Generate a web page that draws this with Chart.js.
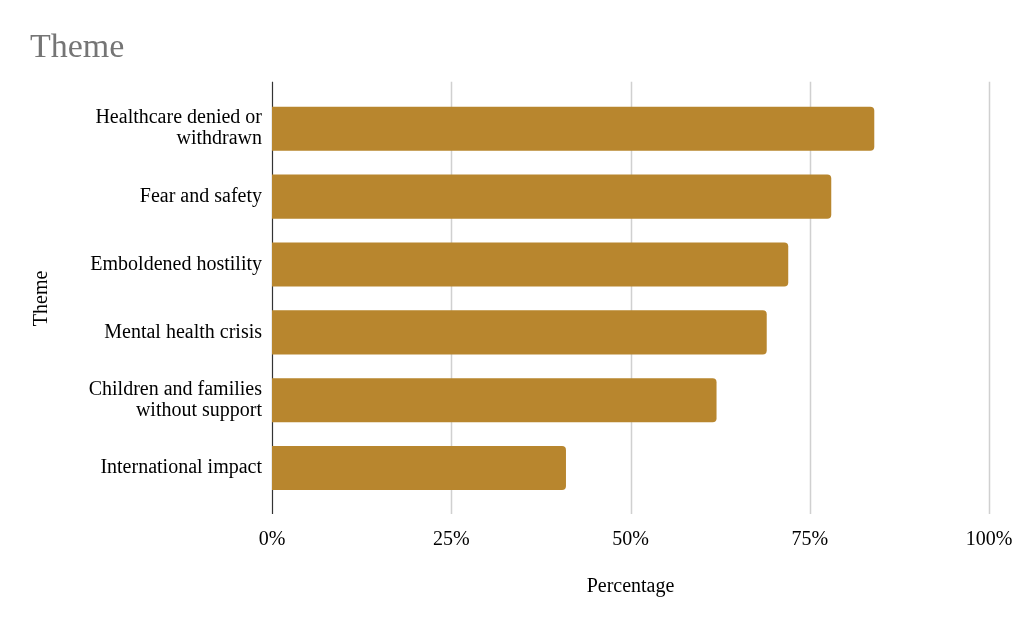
<!DOCTYPE html>
<html>
<head>
<meta charset="utf-8">
<script src="https://cdn.jsdelivr.net/npm/chart.js@4"></script>
<style>
  html, body { margin: 0; padding: 0; background: #fff; }
  #wrap { width: 1020px; height: 626px; }
</style>
</head>
<body>
<div id="wrap"><canvas id="themeChart" width="1020" height="626"></canvas></div>
<script>
// Chart data
const themes = [
    ['Healthcare denied or', 'withdrawn'],
    'Fear and safety',
    'Emboldened hostility',
    'Mental health crisis',
    ['Children and families', 'without support'],
    'International impact'
];
const percentages = [84, 78, 72, 69, 62, 41];
const xTicks = [0, 25, 50, 75, 100];

const serif = "'Liberation Serif', 'DejaVu Serif', serif";

// Extends the vertical grid lines and the axis line above and below the plot, like the original
const extendLines = {
    id: 'extendLines',
    beforeDatasetsDraw(chart) {
        const { ctx, chartArea, scales } = chart;
        ctx.save();
        xTicks.forEach(v => {
            const x = Math.round(scales.x.getPixelForValue(v)) + 0.5;
            ctx.strokeStyle = v === 0 ? '#333' : '#d0d0d0';
            ctx.lineWidth = v === 0 ? 1.2 : 1.5;
            ctx.beginPath();
            ctx.moveTo(x, chartArea.top - 13);
            ctx.lineTo(x, chartArea.bottom + 12);
            ctx.stroke();
        });
        ctx.restore();
    }
};

document.addEventListener('DOMContentLoaded', () => {
    const ctx = document.getElementById('themeChart').getContext('2d');
    new Chart(ctx, {
        type: 'bar',
        data: {
            labels: themes,
            datasets: [{
                label: 'Percentage',
                data: percentages,
                backgroundColor: '#b8862e',
                borderRadius: 4,
                barPercentage: 0.65,
                categoryPercentage: 1
            }]
        },
        plugins: [extendLines],
        options: {
            indexAxis: 'y',
            responsive: false,
            animation: false,
            layout: { padding: { left: 30, right: 31, top: 28, bottom: 20 } },
            plugins: {
                legend: { display: false },
                tooltip: { enabled: false },
                title: {
                    display: true,
                    text: 'Theme',
                    align: 'start',
                    color: '#757575',
                    font: { family: serif, size: 34, weight: 'normal' },
                    padding: { top: 0, bottom: 26 }
                }
            },
            scales: {
                x: {
                    min: 0,
                    max: 100,
                    afterBuildTicks: axis => { axis.ticks = xTicks.map(v => ({ value: v })); },
                    afterFit: axis => {
                        axis.height = 104;
                        axis.paddingLeft = 0;
                        axis.paddingRight = 0;
                    },
                    grid: { display: false },
                    border: { display: false },
                    ticks: {
                        color: '#000',
                        padding: 18,
                        font: { family: serif, size: 20 },
                        callback: v => v + '%'
                    },
                    title: {
                        display: true,
                        text: 'Percentage',
                        color: '#000',
                        font: { family: serif, size: 20 },
                        padding: { top: 0, bottom: 7 }
                    }
                },
                y: {
                    afterFit: axis => { axis.width = 242; },
                    grid: { display: false, drawTicks: false },
                    border: { display: false },
                    ticks: {
                        color: '#000',
                        padding: 10,
                        font: { family: serif, size: 20, lineHeight: 1.05 }
                    },
                    title: {
                        display: true,
                        text: 'Theme',
                        color: '#000',
                        font: { family: serif, size: 20 },
                        padding: { top: 0, bottom: 0 }
                    }
                }
            }
        }
    });
});
</script>
</body>
</html>
